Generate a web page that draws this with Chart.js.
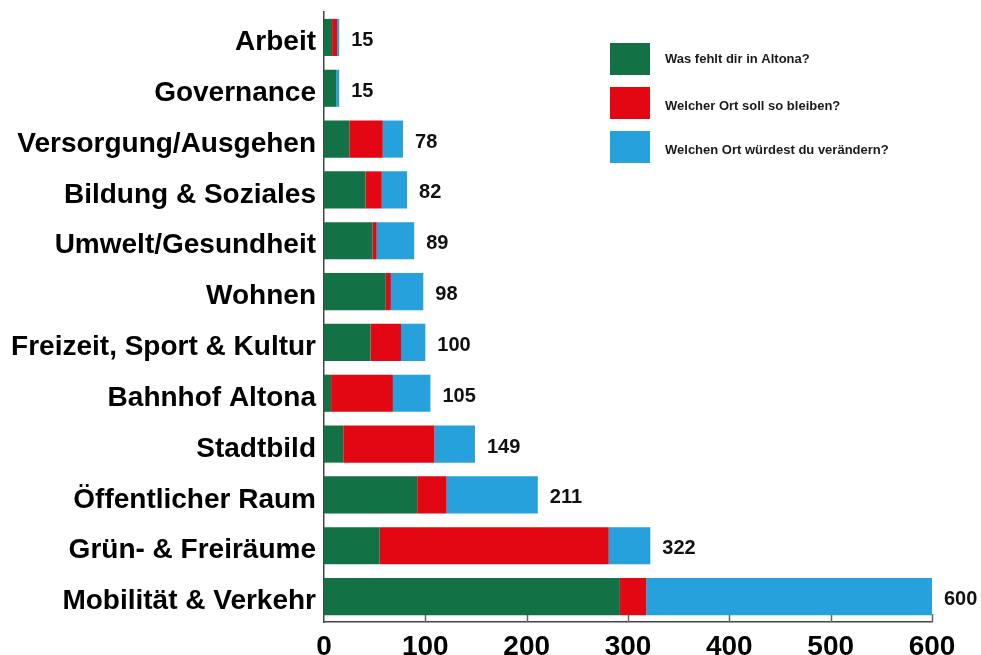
<!DOCTYPE html>
<html>
<head>
<meta charset="utf-8">
<script src="https://cdn.jsdelivr.net/npm/chart.js@4"></script>
<style>
  html, body { margin: 0; padding: 0; background: #ffffff; }
  canvas { display: block; }
</style>
</head>
<body>
<canvas id="altonaChart" width="981" height="655"></canvas>
<script>
const categories = [
    'Arbeit', 'Governance', 'Versorgung/Ausgehen', 'Bildung & Soziales',
    'Umwelt/Gesundheit', 'Wohnen', 'Freizeit, Sport & Kultur', 'Bahnhof Altona',
    'Stadtbild', 'Öffentlicher Raum', 'Grün- & Freiräume', 'Mobilität & Verkehr'
];
const seriesNames = ['Was fehlt dir in Altona?', 'Welcher Ort soll so bleiben?', 'Welchen Ort würdest du verändern?'];
const fehlt    = [8, 12, 25, 41, 48, 61, 46, 7, 19, 92, 55, 292];
const bleiben  = [5, 0, 33, 16, 4, 5, 30, 61, 90, 29, 226, 26];
const aendern  = [2, 3, 20, 25, 37, 32, 24, 37, 40, 90, 41, 282];
const xTicks   = [0, 100, 200, 300, 400, 500, 600];

const colors = ['#137245', '#e30613', '#26a1db'];
const FONT = "'Liberation Sans', Arial, sans-serif";

// small tick marks pointing into the plot from the x axis
const innerTicks = {
    id: 'innerTicks',
    beforeDatasetsDraw(chart) {
        const ctx = chart.ctx;
        const x = chart.scales.x;
        ctx.save();
        ctx.strokeStyle = '#666666';
        ctx.lineWidth = 1.5;
        xTicks.forEach(v => {
            if (v === 0) return;
            const px = Math.round(x.getPixelForValue(v)) + 0.5;
            ctx.beginPath();
            ctx.moveTo(px, chart.chartArea.bottom);
            ctx.lineTo(px, chart.chartArea.bottom - 8);
            ctx.stroke();
        });
        ctx.restore();
    }
};

// totals at the end of each bar
const totals = {
    id: 'totals',
    afterDatasetsDraw(chart) {
        const ctx = chart.ctx;
        const last = chart.getDatasetMeta(chart.data.datasets.length - 1);
        ctx.save();
        ctx.font = "bold 20px " + FONT;
        ctx.fillStyle = '#111111';
        ctx.textAlign = 'left';
        ctx.textBaseline = 'middle';
        categories.forEach((c, i) => {
            const sum = fehlt[i] + bleiben[i] + aendern[i];
            const bar = last.data[i];
            ctx.fillText(String(sum), bar.x + 12, bar.y + 3);
        });
        ctx.restore();
    }
};

// legend box in the upper right
const customLegend = {
    id: 'customLegend',
    afterDraw(chart) {
        const ctx = chart.ctx;
        const tops = [43, 87, 131];
        ctx.save();
        ctx.font = "bold 13px " + FONT;
        ctx.textBaseline = 'middle';
        ctx.textAlign = 'left';
        chart.data.datasets.forEach((ds, i) => {
            ctx.fillStyle = ds.backgroundColor;
            ctx.fillRect(610, tops[i], 40, 32);
            ctx.fillStyle = '#1a1a1a';
            ctx.fillText(ds.label, 665, tops[i] + 16 + (i === 0 ? 0 : 3));
        });
        ctx.restore();
    }
};

new Chart(document.getElementById('altonaChart'), {
    type: 'bar',
    data: {
        labels: categories,
        datasets: [
            { label: seriesNames[0], data: fehlt, backgroundColor: colors[0] },
            { label: seriesNames[1], data: bleiben, backgroundColor: colors[1] },
            { label: seriesNames[2], data: aendern, backgroundColor: colors[2] }
        ]
    },
    options: {
        indexAxis: 'y',
        responsive: false,
        animation: false,
        devicePixelRatio: 1,
        datasets: {
            bar: { barPercentage: 0.73, categoryPercentage: 1, borderWidth: 0 }
        },
        layout: { padding: { top: 12, right: 49, bottom: 0, left: 0 } },
        plugins: {
            legend: { display: false },
            tooltip: { enabled: false }
        },
        scales: {
            x: {
                stacked: true,
                min: 0,
                max: 600,
                afterBuildTicks: function(scale) {
                    scale.ticks = xTicks.map(v => ({ value: v }));
                },
                afterFit: function(scale) { scale.height = 33; },
                grid: { display: false },
                border: { display: true, color: '#444444', width: 1.5 },
                ticks: {
                    color: '#000000',
                    padding: 0,
                    maxRotation: 0,
                    font: { family: FONT, size: 28, weight: 'bold' }
                }
            },
            y: {
                stacked: true,
                afterFit: function(scale) {
                    scale.width = 324;
                    scale.paddingTop = 0;
                    scale.paddingBottom = 0;
                },
                grid: { display: false },
                border: { display: true, color: '#444444', width: 1.5 },
                ticks: {
                    color: '#000000',
                    padding: 0,
                    labelOffset: 5,
                    font: { family: FONT, size: 28, weight: 'bold' }
                }
            }
        }
    },
    plugins: [innerTicks, totals, customLegend]
});
</script>
</body>
</html>
